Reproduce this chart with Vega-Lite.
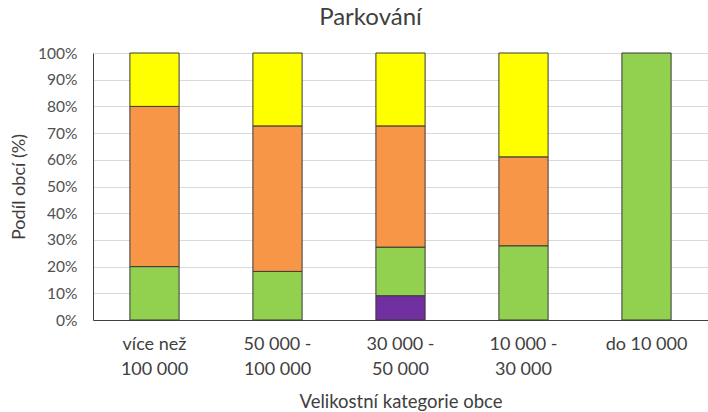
{
  "$schema": "https://vega.github.io/schema/vega-lite/v6.json",
  "autosize": {"type": "none"},
  "width": 615,
  "height": 267,
  "padding": {"left": 93, "top": 53, "right": 0, "bottom": 92},
  "background": "white",
  "title": {"text": "Parkování", "font": "Lato", "fontSize": 24, "fontWeight": "normal", "color": "#404040", "offset": 16, "anchor": "middle", "dx": -30},
  "config": {"view": {"stroke": null}},
  "data": {"values": [
    {"kategorie": "více než 100 000", "typ": "a", "podil": 0},
    {"kategorie": "více než 100 000", "typ": "b", "podil": 20},
    {"kategorie": "více než 100 000", "typ": "c", "podil": 60},
    {"kategorie": "více než 100 000", "typ": "d", "podil": 20},
    {"kategorie": "50 000 - 100 000", "typ": "a", "podil": 0},
    {"kategorie": "50 000 - 100 000", "typ": "b", "podil": 18.2},
    {"kategorie": "50 000 - 100 000", "typ": "c", "podil": 54.5},
    {"kategorie": "50 000 - 100 000", "typ": "d", "podil": 27.3},
    {"kategorie": "30 000 - 50 000", "typ": "a", "podil": 9.1},
    {"kategorie": "30 000 - 50 000", "typ": "b", "podil": 18.2},
    {"kategorie": "30 000 - 50 000", "typ": "c", "podil": 45.4},
    {"kategorie": "30 000 - 50 000", "typ": "d", "podil": 27.3},
    {"kategorie": "10 000 - 30 000", "typ": "a", "podil": 0},
    {"kategorie": "10 000 - 30 000", "typ": "b", "podil": 27.8},
    {"kategorie": "10 000 - 30 000", "typ": "c", "podil": 33.3},
    {"kategorie": "10 000 - 30 000", "typ": "d", "podil": 38.9},
    {"kategorie": "do 10 000", "typ": "a", "podil": 0},
    {"kategorie": "do 10 000", "typ": "b", "podil": 100},
    {"kategorie": "do 10 000", "typ": "c", "podil": 0},
    {"kategorie": "do 10 000", "typ": "d", "podil": 0}
  ]},
  "transform": [{"filter": "datum.podil > 0"}],
  "mark": {"type": "bar", "stroke": "#3a3a3a", "strokeWidth": 1},
  "encoding": {
    "x": {
      "field": "kategorie", "type": "nominal", "sort": null,
      "scale": {"paddingInner": 0.6, "paddingOuter": 0.3},
      "axis": {
        "title": "Velikostní kategorie obce",
        "labelAngle": 0,
        "labelExpr": "datum.value == 'do 10 000' ? 'do 10 000' : datum.value == 'více než 100 000' ? ['více než', '100 000'] : [split(datum.value, ' - ')[0] + ' -', split(datum.value, ' - ')[1]]",
        "labelFont": "Lato", "labelFontSize": 18, "labelColor": "#404040", "labelLineHeight": 25,
        "labelPadding": 15,
        "ticks": false,
        "domainColor": "#404040", "domainWidth": 1.2,
        "titleFont": "Lato", "titleFontSize": 18.5, "titleFontWeight": "normal", "titleColor": "#404040",
        "titlePadding": 14
      }
    },
    "y": {
      "field": "podil", "type": "quantitative", "stack": "normalize",
      "scale": {"domain": [0, 1]},
      "axis": {
        "title": "Podíl obcí (%)",
        "format": ".0%",
        "values": [0, 0.1, 0.2, 0.3, 0.4, 0.5, 0.6, 0.7, 0.8, 0.9, 1],
        "labelOverlap": false,
        "labelFont": "Lato", "labelFontSize": 15.5, "labelColor": "#505050",
        "labelPadding": 16,
        "ticks": false,
        "domainColor": "#404040", "domainWidth": 1,
        "grid": true, "gridColor": "#d9d9d9", "gridWidth": 1,
        "titleFont": "Lato", "titleFontSize": 18, "titleFontWeight": "normal", "titleColor": "#404040",
        "titlePadding": 9
      }
    },
    "color": {
      "field": "typ", "type": "nominal",
      "scale": {"domain": ["a", "b", "c", "d"], "range": ["#7030A0", "#92D050", "#F79646", "#FFFF00"]},
      "legend": null
    },
    "order": {"field": "typ", "sort": "ascending"}
  }
}
